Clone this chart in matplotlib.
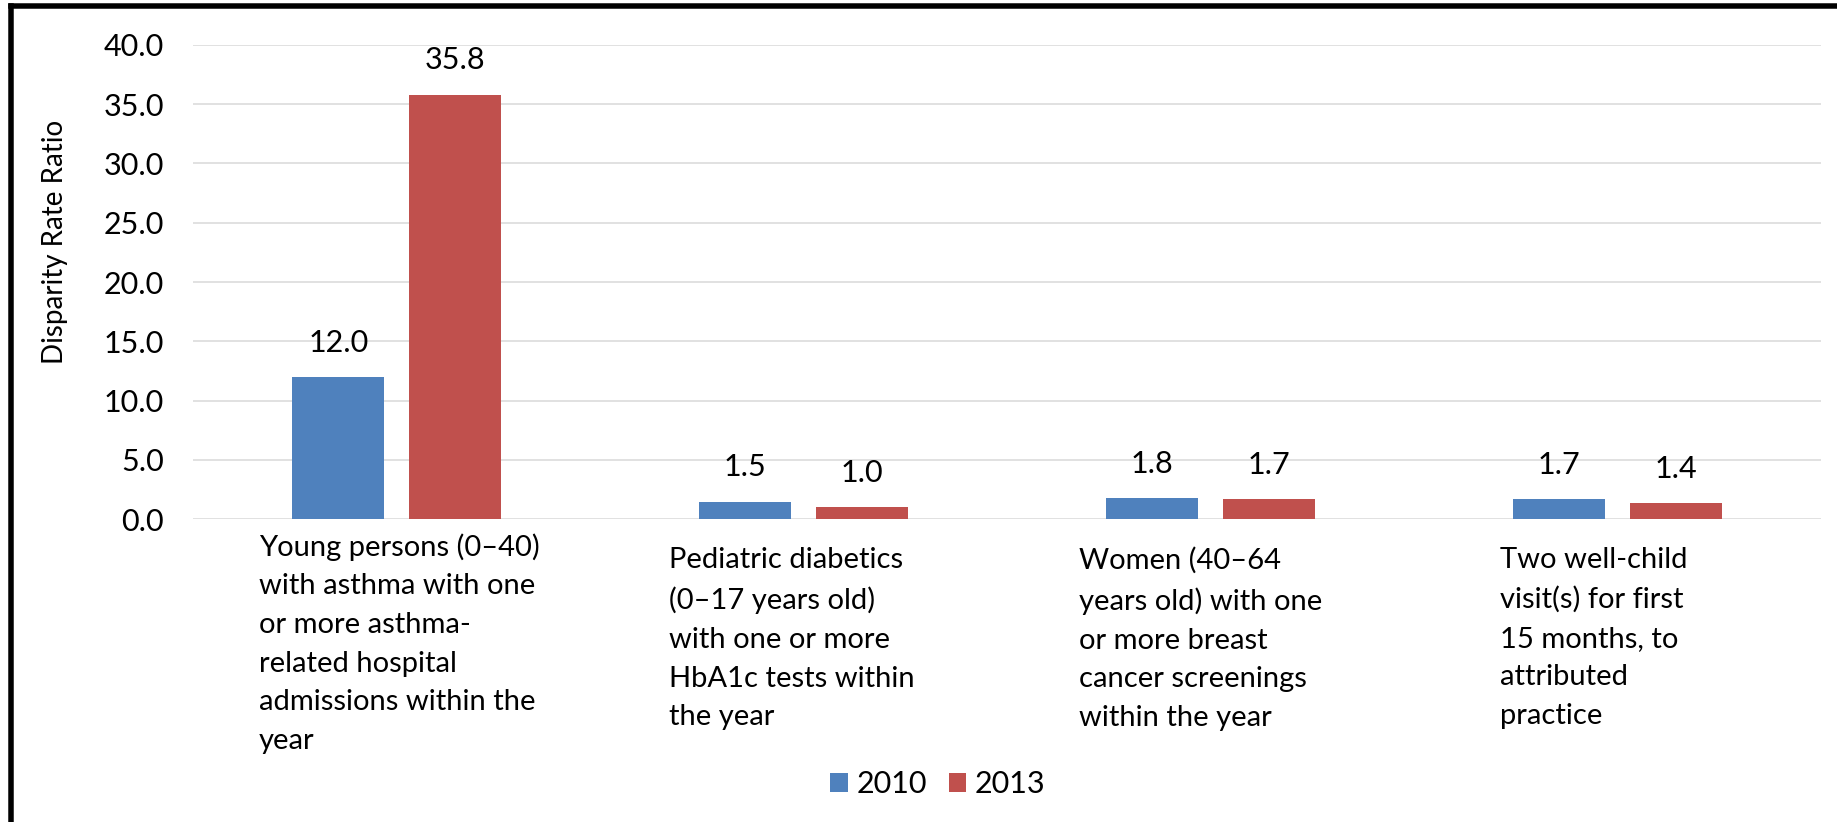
import matplotlib
matplotlib.use("Agg")
import matplotlib.pyplot as plt
from matplotlib.lines import Line2D
from matplotlib.transforms import ScaledTranslation
import numpy as np

plt.rcParams['font.family'] = ['Lato', 'DejaVu Sans']

# Data
categories = [
    "Young persons (0–40)\nwith asthma with one\nor more asthma-\nrelated hospital\nadmissions within the\nyear",
    "Pediatric diabetics\n(0–17 years old)\nwith one or more\nHbA1c tests within\nthe year",
    "Women (40–64\nyears old) with one\nor more breast\ncancer screenings\nwithin the year",
    "Two well-child\nvisit(s) for first\n15 months, to\nattributed\npractice",
]
series_names = ["2010", "2013"]
values_2010 = [12.0, 1.5, 1.8, 1.7]
values_2013 = [35.8, 1.0, 1.7, 1.4]
y_ticks = [0, 5, 10, 15, 20, 25, 30, 35, 40]

colors = ["#4F81BD", "#C0504D"]
W, H, DPI = 1837, 822, 100
FS = 22

fig = plt.figure(figsize=(W / DPI, H / DPI), dpi=DPI)
ax = fig.add_axes([193 / W, 1 - 519.3 / H, (1821 - 193) / W, (519.3 - 44.7) / H])

x = np.arange(len(categories))
bw = 0.226
off = 0.143
bars = []
for i, (vals, c, name) in enumerate(zip([values_2010, values_2013], colors, series_names)):
    b = ax.bar(x + (i * 2 - 1) * off, vals, width=bw, color=c, label=name, zorder=3)
    bars.append(b)
    for rect, v in zip(b, vals):
        ax.annotate(f"{v:.1f}", (rect.get_x() + rect.get_width() / 2, v),
                    xytext=(0, 14.5), textcoords="offset points",
                    ha="center", va="bottom", fontsize=FS, color="black")

ax.set_xlim(-0.5, len(categories) - 0.5)
ax.set_ylim(0, 40)
ax.set_yticks(y_ticks)
ax.set_yticklabels([f"{t:.1f}" for t in y_ticks], fontsize=FS)
ax.set_xticks(x)
ax.set_xticklabels(categories, fontsize=21, ha="center", va="top",
                   multialignment="left", linespacing=1.6)
ax.tick_params(axis="both", length=0)
ax.tick_params(axis="y", pad=21)
ax.tick_params(axis="x", pad=10)
# nudge each wrapped label block (pixels: dx, dy)
nudges = [(3, 0), (-12, -14), (-10, -14), (-24, -14)]
for lbl, (dx, dy) in zip(ax.get_xticklabels(), nudges):
    lbl.set_transform(lbl.get_transform() + ScaledTranslation(dx / DPI, dy / DPI, fig.dpi_scale_trans))
for s in ax.spines.values():
    s.set_visible(False)
ax.yaxis.grid(True, color="#D9D9D9", linewidth=1.1, zorder=0)
ax.set_axisbelow(True)

fig.text(55 / W, 1 - 242 / H, "Disparity Rate Ratio", rotation=90,
         ha="center", va="center", fontsize=20)

fig.legend(handles=bars, labels=series_names, loc="center",
           bbox_to_anchor=(938 / W, 1 - 784 / H), ncol=2, frameon=False,
           fontsize=FS, handlelength=0.56, handleheight=0.6,
           handletextpad=0.3, columnspacing=0.7)

# Outer frame (left and top edges)
lw = 5.5 * 72 / DPI
fig.add_artist(Line2D([11 / W, 11 / W], [0, 1 - 6 / H], color="black",
                      linewidth=lw, transform=fig.transFigure, solid_capstyle="projecting"))
fig.add_artist(Line2D([11 / W, 1], [1 - 6 / H, 1 - 6 / H], color="black",
                      linewidth=lw, transform=fig.transFigure, solid_capstyle="projecting"))

fig.savefig("out.png", dpi=DPI, facecolor="white")
